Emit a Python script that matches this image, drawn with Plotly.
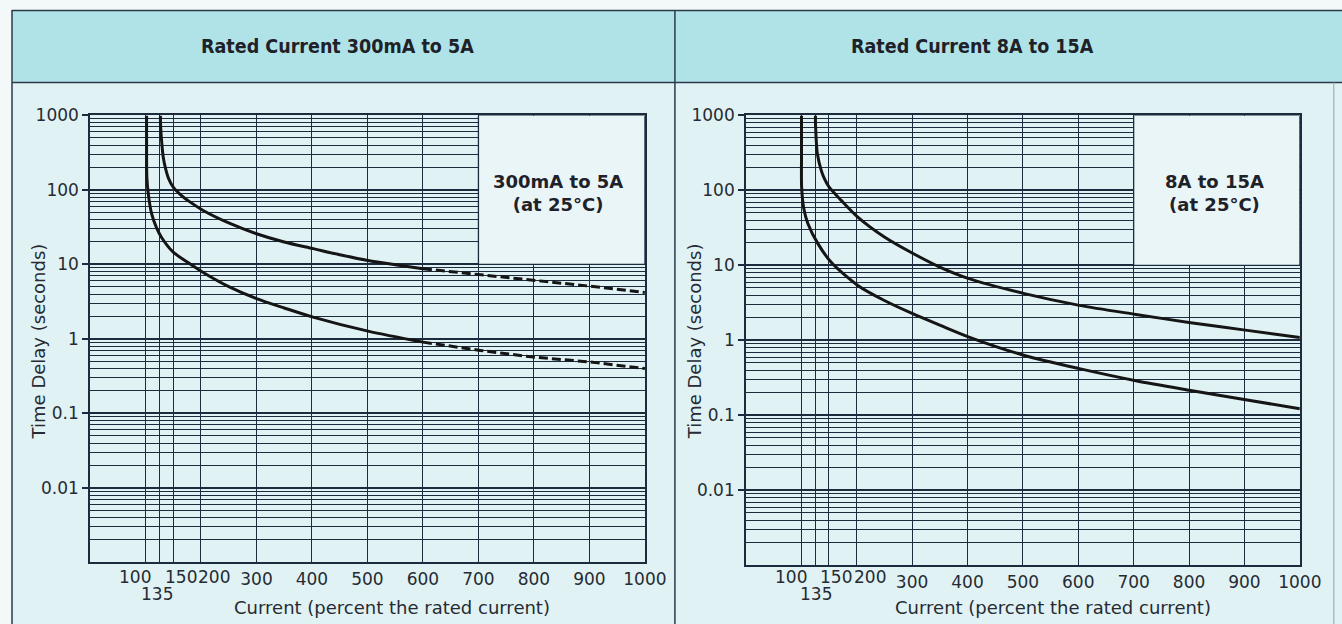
import plotly.graph_objects as go

# ---------------- data ----------------
# grid/tick positions along the current axis (the "135" line sits at ~126 on the printed scale)
x_tick_vals = [100, 126, 150, 200, 300, 400, 500, 600, 700, 800, 900, 1000]
x_tick_text = ["", "", "", "", "300", "400", "500", "600", "700", "800", "900", "1000"]
cluster_vals = [100, 126, 150, 200]
cluster_text = ["100", "135", "150", "200"]

y_major_vals = [0.01, 0.1, 1, 10, 100, 1000]
y_major_text = ["0.01", "0.1", "1", "10", "100", "1000"]
y_minor_vals = [m * 10.0 ** k for k in range(-3, 3) for m in range(1, 10)] + [1000]

# Left panel: 300mA to 5A
left_upper_x = [127, 127, 127.5, 129, 132, 137, 141.5, 150, 165, 180, 204, 250, 300, 350, 402, 450, 501, 550, 600]
left_upper_t = [1000, 800, 670, 460, 275, 183, 143, 109, 84, 69, 53, 36, 25.8, 20, 16.3, 13.5, 11.3, 9.9, 8.75]
left_upper_dash_x = [600, 703, 799, 901, 1000]
left_upper_dash_t = [8.75, 7.3, 6.1, 5.1, 4.2]

left_lower_x = [102, 102, 102.5, 105, 111, 120, 129, 150, 180, 204, 252, 300, 350, 402, 501, 600]
left_lower_t = [1000, 400, 148, 89, 48, 31, 23, 14.6, 10.2, 7.8, 4.95, 3.47, 2.6, 1.96, 1.27, 0.905]
left_lower_dash_x = [600, 703, 799, 901, 1000]
left_lower_dash_t = [0.905, 0.70, 0.57, 0.49, 0.40]

# Right panel: 8A to 15A
right_upper_x = [125.6, 125.6, 126, 127, 129, 136, 141.5, 150, 172, 202, 250, 301, 350, 404, 503, 602, 704, 803, 905, 1000]
right_upper_t = [1000, 800, 670, 464, 308, 185, 144.5, 111, 73.6, 44, 23.9, 14.5, 9.5, 6.6, 4.2, 2.93, 2.22, 1.72, 1.36, 1.09]
right_lower_x = [100.4, 100.4, 100.6, 104.5, 112, 130, 154, 202, 250, 301, 350, 404, 503, 602, 704, 803, 905, 1000]
right_lower_t = [1000, 300, 110, 57.5, 36, 19.5, 11, 5.4, 3.4, 2.27, 1.6, 1.1, 0.63, 0.42, 0.29, 0.215, 0.16, 0.123]

panel_titles = ["Rated Current 300mA to 5A", "Rated Current 8A to 15A"]
inset_labels = ["300mA to 5A<br>(at 25°C)", "8A to 15A<br>(at 25°C)"]
x_title = "Current (percent the rated current)"
y_title = "Time Delay (seconds)"

# ---------------- layout helpers ----------------
# the page is photographed at ~0.984 scale with a ~9.6px top offset; compensate
SCALE = 0.984
OY = 9.6
W, H = 1364, 624


def px(X):
    return (X / SCALE) / W


def py(Y):
    return 1 - ((Y - OY) / SCALE) / H


GRID = "#1d2b3e"
INK = "#151515"
TXT = "#262b33"
FONT = "DejaVu Sans"

fig = go.Figure()

solid = dict(color=INK, width=3, shape="spline", smoothing=0.8)
dashed = dict(color=INK, width=3, dash="9px,4px")


def add(x, y, line, xa, ya):
    fig.add_trace(go.Scatter(x=x, y=y, mode="lines", line=line, xaxis=xa, yaxis=ya,
                             showlegend=False, hoverinfo="skip"))


add(left_upper_x, left_upper_t, solid, "x", "y")
add(left_upper_dash_x, left_upper_dash_t, dashed, "x", "y")
add(left_lower_x, left_lower_t, solid, "x", "y")
add(left_lower_dash_x, left_lower_dash_t, dashed, "x", "y")
add(right_upper_x, right_upper_t, solid, "x2", "y2")
add(right_lower_x, right_lower_t, solid, "x2", "y2")


def xaxis_cfg(x0, x1, anchor):
    return dict(
        domain=[px(x0), px(x1)], range=[0, 1000], anchor=anchor,
        tickmode="array", tickvals=x_tick_vals, ticktext=x_tick_text,
        ticks="", showgrid=True, gridcolor=GRID, gridwidth=1.2,
        showline=True, linecolor=GRID, linewidth=1.5, mirror=True,
        zeroline=False, tickfont=dict(family=FONT, size=17, color=TXT),
    )


def yaxis_cfg(y_top, y_bot, anchor):
    return dict(
        type="log", range=[-3, 3], domain=[py(y_bot), py(y_top)], anchor=anchor,
        tickmode="array", tickvals=y_major_vals, ticktext=y_major_text,
        ticks="outside", ticklen=6, tickcolor=GRID, tickwidth=1.5,
        showgrid=True, gridcolor=GRID, gridwidth=1.6,
        minor=dict(tickmode="array", tickvals=y_minor_vals, showgrid=True,
                   gridcolor=GRID, gridwidth=1, ticks=""),
        showline=True, linecolor=GRID, linewidth=1.5, mirror=True,
        zeroline=False, tickfont=dict(family=FONT, size=17, color=TXT),
    )


shapes = []
shapes.append(dict(type="rect", xref="paper", yref="paper", x0=px(12), x1=1.0, y0=0, y1=py(82),
                   fillcolor="#e1f2f4", line=dict(width=0), layer="below"))
shapes.append(dict(type="rect", xref="paper", yref="paper", x0=px(12), x1=1.0, y0=py(82), y1=1.0,
                   fillcolor="#b0e3e8", line=dict(width=0), layer="below"))
frame = dict(color="#2b3a4a", width=1.5)
shapes.append(dict(type="line", xref="paper", yref="paper", x0=px(12), x1=1.0, y0=0.999, y1=0.999, line=frame))
shapes.append(dict(type="line", xref="paper", yref="paper", x0=px(12), x1=1.0, y0=py(82), y1=py(82), line=frame))
shapes.append(dict(type="line", xref="paper", yref="paper", x0=px(12), x1=px(12), y0=0, y1=1.0, line=frame))
shapes.append(dict(type="line", xref="paper", yref="paper", x0=px(675), x1=px(675), y0=0, y1=1.0, line=frame))
shapes.append(dict(type="line", xref="paper", yref="paper", x0=px(1334), x1=px(1334), y0=0, y1=py(82),
                   line=dict(color="#8fa3b0", width=1)))

for xr, yr in (("x", "y"), ("x2", "y2")):
    shapes.append(dict(type="rect", xref=xr, yref=yr, x0=700, x1=1000, y0=10, y1=1000,
                       fillcolor="#eaf5f8", line=dict(color=GRID, width=1.3), layer="between"))

annotations = []
for text, cx in zip(panel_titles, (338, 973)):
    annotations.append(dict(text=f"<b>{text}</b>", xref="paper", yref="paper", x=px(cx), y=py(46),
                            showarrow=False, xanchor="center", yanchor="middle",
                            font=dict(family="DejaVu Sans Condensed, DejaVu Sans", size=19.5, color="#1e2228")))
for text, cx in zip(inset_labels, (558, 1215)):
    annotations.append(dict(text=f"<b>{text}</b>", xref="paper", yref="paper", x=px(cx), y=py(193),
                            showarrow=False, xanchor="center", yanchor="middle",
                            font=dict(family=FONT, size=18, color="#1e2228")))
for xr, shifts in (("x", (-10, -3, 8, 13)), ("x2", (-10, 0, 7, 13))):
    for v, t, s in zip(cluster_vals, cluster_text, shifts):
        annotations.append(dict(text=t, xref=xr, yref="paper", x=v, xshift=s,
                                y=py(594) if t == "135" else py(577),
                                showarrow=False, xanchor="center", yanchor="middle",
                                font=dict(family=FONT, size=17, color=TXT)))
for cx in (392, 1053):
    annotations.append(dict(text=x_title, xref="paper", yref="paper", x=px(cx), y=py(607),
                            showarrow=False, xanchor="center", yanchor="middle",
                            font=dict(family=FONT, size=18, color=TXT)))
for cx in (38, 694):
    annotations.append(dict(text=y_title, xref="paper", yref="paper", x=px(cx), y=py(341),
                            showarrow=False, xanchor="center", yanchor="middle", textangle=-90,
                            font=dict(family=FONT, size=18, color=TXT)))

fig.update_layout(
    width=W, height=H, autosize=False,
    margin=dict(l=0, r=0, t=0, b=0),
    paper_bgcolor="#f3f9f9", plot_bgcolor="#e6f5f7",
    xaxis=xaxis_cfg(90, 645, "y"),
    yaxis=yaxis_cfg(115, 562, "x"),
    xaxis2=xaxis_cfg(746, 1300, "y2"),
    yaxis2=yaxis_cfg(115, 565, "x2"),
    shapes=shapes,
    annotations=annotations,
    showlegend=False,
)

fig.write_html(
    "out.html",
    config={"displayModeBar": False},
    post_script=(
        "document.documentElement.style.margin='0';"
        "document.documentElement.style.background='#f3f9f9';"
        "document.body.style.margin='0';document.body.style.padding='0';"
        "document.body.style.background='#f3f9f9';"
    ),
)
